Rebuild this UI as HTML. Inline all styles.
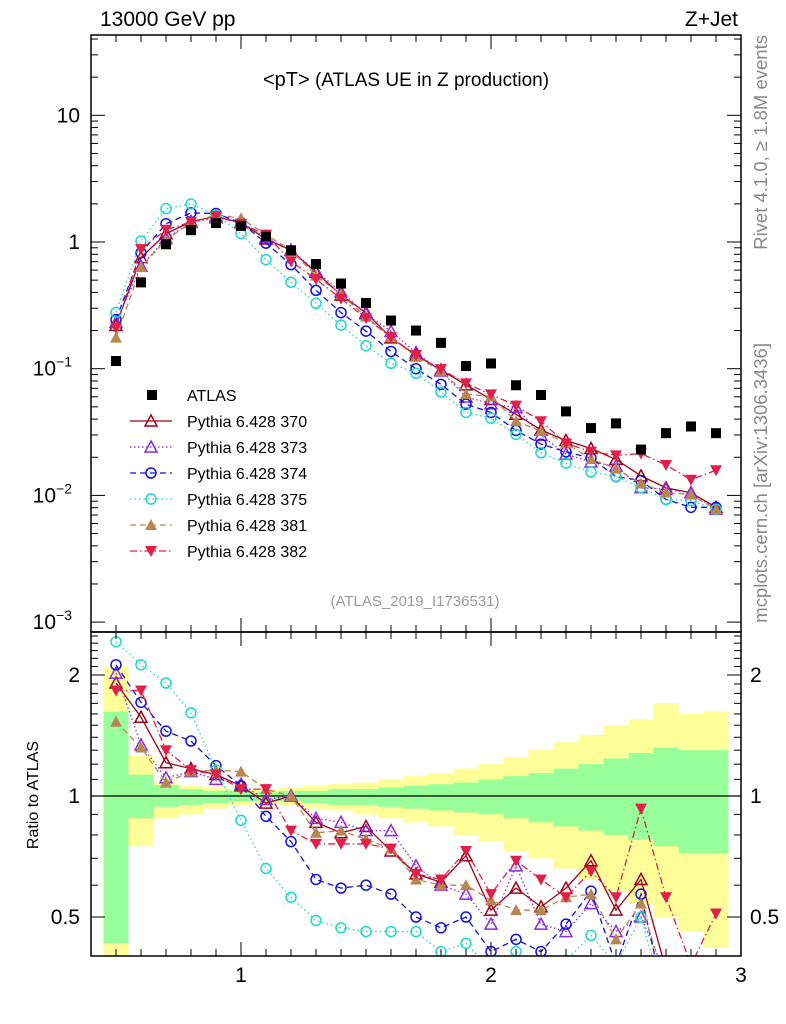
<!DOCTYPE html>
<html><head><meta charset="utf-8"><style>
html,body{margin:0;padding:0;background:#fff;}
svg{display:block;font-family:"Liberation Sans",sans-serif;}
</style></head><body>
<svg id="c" width="786" height="1024" xmlns="http://www.w3.org/2000/svg"></svg>
<script>
const bins=[0.5,0.6,0.7,0.8,0.9,1.0,1.1,1.2,1.3,1.4,1.5,1.6,1.7,1.8,1.9,2.0,2.1,2.2,2.3,2.4,2.5,2.6,2.7,2.8,2.9];
const atlas=[0.115,0.48,0.96,1.24,1.41,1.34,1.1,0.86,0.67,0.47,0.33,0.24,0.2,0.16,0.105,0.11,0.074,0.062,0.046,0.034,0.037,0.023,0.031,0.035,0.031];
const r370=[1.91,1.57,1.21,1.17,1.13,1.06,0.96,1.0,0.86,0.81,0.84,0.73,0.64,0.61,0.71,0.52,0.59,0.53,0.59,0.69,0.52,0.62,0.37,0.3,0.26];
const r373=[2.02,1.34,1.11,1.15,1.1,1.07,0.98,1.0,0.88,0.86,0.82,0.82,0.67,0.6,0.57,0.48,0.67,0.48,0.46,0.54,0.46,0.5,0.36,0.3,0.25];
const r374=[2.12,1.71,1.45,1.37,1.19,1.06,0.89,0.77,0.62,0.59,0.6,0.57,0.5,0.47,0.5,0.41,0.44,0.41,0.48,0.58,0.38,0.57,0.3,0.23,0.26];
const r375=[2.42,2.12,1.91,1.61,1.16,0.87,0.66,0.56,0.49,0.47,0.46,0.46,0.46,0.41,0.43,0.37,0.41,0.35,0.39,0.45,0.38,0.5,0.3,0.26,0.25];
const r381=[1.53,1.32,1.08,1.15,1.16,1.15,1.04,1.0,0.81,0.82,0.78,0.74,0.62,0.6,0.6,0.55,0.52,0.52,0.56,0.57,0.44,0.54,0.34,0.29,0.25];
const r382=[1.83,1.83,1.3,1.16,1.13,1.04,1.04,0.82,0.76,0.76,0.76,0.74,0.64,0.62,0.73,0.57,0.69,0.62,0.56,0.65,0.56,0.93,0.56,0.38,0.51];
const yelHi=[2.1,1.26,1.08,1.06,1.05,1.04,1.04,1.05,1.06,1.07,1.08,1.1,1.12,1.14,1.17,1.2,1.25,1.3,1.36,1.42,1.5,1.55,1.7,1.6,1.62];
const grnHi=[1.62,1.13,1.065,1.04,1.03,1.03,1.02,1.03,1.03,1.04,1.04,1.05,1.06,1.07,1.08,1.1,1.12,1.14,1.17,1.2,1.24,1.28,1.32,1.3,1.3];
const grnLo=[0.43,0.88,0.94,0.95,0.96,0.97,0.97,0.97,0.96,0.95,0.95,0.94,0.93,0.92,0.91,0.9,0.88,0.86,0.84,0.82,0.8,0.78,0.75,0.72,0.72];
const yelLo=[0.4,0.75,0.88,0.9,0.93,0.95,0.96,0.95,0.93,0.92,0.9,0.88,0.86,0.84,0.8,0.77,0.73,0.7,0.66,0.62,0.58,0.54,0.5,0.46,0.42];
const xTicks=[1,2,3];
const yTicks=[{v:10,t:"10"},{v:1,t:"1"},{v:0.1,t:"10",e:"−1"},{v:0.01,t:"10",e:"−2"},{v:0.001,t:"10",e:"−3"}];
const rTicks=[0.5,1,2];

const NS="http://www.w3.org/2000/svg",svg=document.getElementById('c');
const L=91,R=741,T=35,M=632,B=956;
const X=v=>L+(v-0.4)/2.6*(R-L);
const Y=v=>242-Math.log10(v)*126.7;
const YR=v=>796-Math.log10(v)*402;
function el(tag,attrs,parent){const e=document.createElementNS(NS,tag);for(const k in attrs)e.setAttribute(k,attrs[k]);(parent||svg).appendChild(e);return e;}
function txt(s,attrs,parent){const e=el('text',attrs,parent);e.textContent=s;return e;}
const clipD=el('defs',{});
const c1=el('clipPath',{id:'cm'},clipD);el('rect',{x:L,y:T,width:R-L,height:M-T},c1);
const c2=el('clipPath',{id:'cr'},clipD);el('rect',{x:L,y:M,width:R-L,height:B-M},c2);

const gb=el('g',{'clip-path':'url(#cr)'});


bins.forEach((b,i)=>{
  const x0=X(b-0.05),w=X(b+0.05)-x0;
  const y=el('rect',{x:x0,y:YR(yelHi[i]),width:w,height:YR(yelLo[i])-YR(yelHi[i]),fill:'#ffff99'},gb);
  
  
  const g=el('rect',{x:x0,y:YR(grnHi[i]),width:w,height:YR(grnLo[i])-YR(grnHi[i]),fill:'#99ff99'},gb);
  
  
});
el('line',{x1:L,x2:R,y1:YR(1),y2:YR(1),stroke:'#000','stroke-width':1.2});

const series=[
 {n:'370',r:r370,c:'#a00018',d:'',m:'tri'},
 {n:'373',r:r373,c:'#8a2be2',d:'1.5,2.5',m:'tri'},
 {n:'374',r:r374,c:'#1010e0',d:'6,4',m:'circ'},
 {n:'375',r:r375,c:'#20d8c8',d:'1.5,3',m:'circ'},
 {n:'381',r:r381,c:'#b88650',d:'6,4',m:'ftri'},
 {n:'382',r:r382,c:'#e0204a',d:'7,3,1.5,3',m:'itri'}];
function marker(type,x,y,c,g){
  if(type==='circ')return el('circle',{cx:x,cy:y,r:5,fill:'none',stroke:c,'stroke-width':1.5},g);
  if(type==='tri')return el('polygon',{points:`${x},${y-6} ${x-6},${y+5} ${x+6},${y+5}`,fill:'none',stroke:c,'stroke-width':1.5},g);
  if(type==='ftri')return el('polygon',{points:`${x},${y-6} ${x-6},${y+5} ${x+6},${y+5}`,fill:c},g);
  return el('polygon',{points:`${x},${y+6} ${x-6},${y-5} ${x+6},${y-5}`,fill:c},g);
}
function drawSeries(clip,yf,vals,s,name){
  const g=el('g',{'clip-path':clip});
  
  
  el('polyline',{points:bins.map((b,i)=>X(b)+','+yf(vals[i])).join(' '),fill:'none',stroke:s.c,'stroke-width':1.3,'stroke-dasharray':s.d},g);
  bins.forEach((b,i)=>{const m=marker(s.m,X(b),yf(vals[i]),s.c,g);});
}
series.forEach(s=>{
  drawSeries('url(#cr)',YR,s.r,s,'ratio-pythia-'+s.n);
  drawSeries('url(#cm)',Y,s.r.map((r,i)=>r*atlas[i]),s,'pythia-'+s.n);
});
const ga=el('g',{'clip-path':'url(#cm)'});


bins.forEach((b,i)=>{const r=el('rect',{x:X(b)-5,y:Y(atlas[i])-5,width:10,height:10,fill:'#000'},ga);});

el('rect',{x:L,y:T,width:R-L,height:M-T,fill:'none',stroke:'#000','stroke-width':1.5});
el('rect',{x:L,y:M,width:R-L,height:B-M,fill:'none',stroke:'#000','stroke-width':1.5});
for(let v=0.5;v<3.0;v+=0.1){const x=X(v),maj=Math.abs(v-Math.round(v))<1e-6,len=maj?14:7;
  [[T,1],[M,-1],[M,1],[B,-1]].forEach(([y,d])=>el('line',{x1:x,x2:x,y1:y,y2:y+d*len,stroke:'#000'}));}
xTicks.forEach(v=>{const t=txt(String(v),{x:X(v),y:982,'font-size':21,'text-anchor':'middle'});});
for(let e=-3;e<=1;e++)for(let k=1;k<=9;k++){const v=k*Math.pow(10,e),y=Y(v);if(y<T||y>M)continue;const len=k===1?14:7;
  el('line',{x1:L,x2:L+len,y1:y,y2:y,stroke:'#000'});el('line',{x1:R,x2:R-len,y1:y,y2:y,stroke:'#000'});}
yTicks.forEach(t=>{const e=txt(t.t,{x:t.e?72:80,y:Y(t.v)+7,'font-size':21,'text-anchor':'end'});
  if(t.e){const s=el('tspan',{dy:-9,'font-size':14},e);s.textContent=t.e;}
  });
for(let v=0.4;v<=2.55;v+=0.1){const y=YR(v),maj=[0.5,1,2].some(m=>Math.abs(m-v)<1e-6),len=maj?14:7;
  el('line',{x1:L,x2:L+len,y1:y,y2:y,stroke:'#000'});el('line',{x1:R,x2:R-len,y1:y,y2:y,stroke:'#000'});}
rTicks.forEach(v=>{[[80,'end'],[750,'start']].forEach(([x,a])=>{const t=txt(String(v),{x:x,y:YR(v)+7,'font-size':21,'text-anchor':a});});});
const lg=el('g',{});


const ly0=395;
el('rect',{x:147,y:ly0-5,width:10,height:10,fill:'#000'},lg);
txt('ATLAS',{x:187,y:ly0+6,'font-size':16},lg);
series.forEach((s,i)=>{const y=ly0+26*(i+1);
  const e=el('g',{},lg);
  el('line',{x1:130,x2:172,y1:y,y2:y,stroke:s.c,'stroke-width':1.3,'stroke-dasharray':s.d},e);
  marker(s.m,151,y,s.c,e);
  txt('Pythia 6.428 '+s.n,{x:187,y:y+6,'font-size':16},e);});
const tt=[['13000 GeV pp',{x:100,y:26,'font-size':21},'beam-label'],['Z+Jet',{x:738,y:26,'font-size':21,'text-anchor':'end'},'process-label'],
 ['(ATLAS_2019_I1736531)',{x:415,y:606,'font-size':15,'text-anchor':'middle',fill:'#999'},'analysis-id']];
tt.forEach(([s,a,n])=>{const t=txt(s,a);});
const pt=txt('<pT>',{x:263,y:86,'font-size':20});
const ps=el('tspan',{'font-size':19},pt);ps.textContent=' (ATLAS UE in Z production)';
const rv=txt('Rivet 4.1.0, ≥ 1.8M events',{x:0,y:0,'font-size':18.5,fill:'#888','text-anchor':'end',transform:'translate(767,35) rotate(-90)'});

const mc=txt('mcplots.cern.ch [arXiv:1306.3436]',{x:0,y:0,'font-size':18.5,fill:'#888','text-anchor':'end',transform:'translate(767,343) rotate(-90)'});

const ra=txt('Ratio to ATLAS',{x:0,y:0,'font-size':16,'text-anchor':'middle',transform:'translate(38,795) rotate(-90)'});

</script>
</body></html>
